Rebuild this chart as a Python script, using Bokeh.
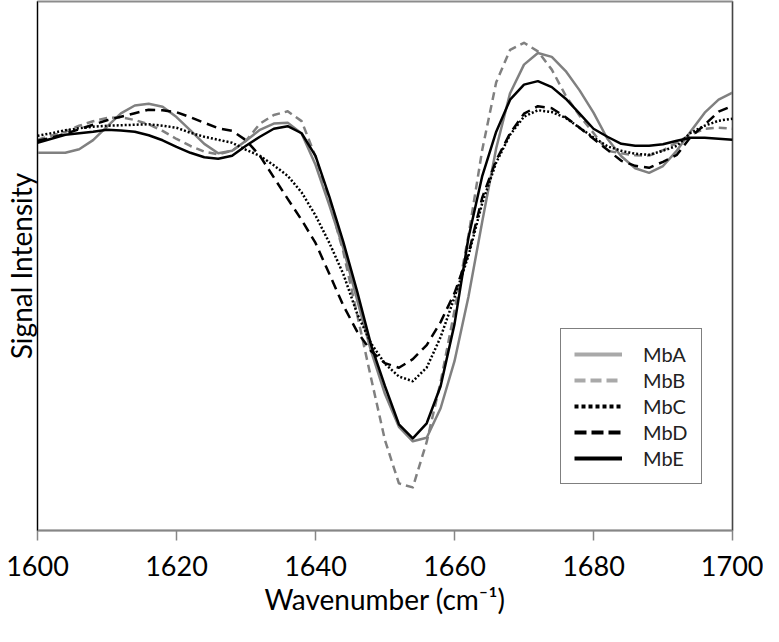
from bokeh.plotting import figure
from bokeh.models import Range1d, FixedTicker, Legend, LegendItem, Span
from bokeh.embed import file_html
from bokeh.resources import INLINE

# Wavenumber grid (cm-1) and second-derivative signal (arbitrary units)
wavenumber = list(range(1600, 1701, 2))

MbA = [0, 0, 0, 3.5, 12.6, 26.2, 39.3, 47.2, 49, 46, 35.6, 22.3, 8.9, -0.4, 2, 12,
       22.9, 29.2, 30.1, 19.2, -12, -52.4, -95.5, -147, -198, -240.8, -273.5, -288,
       -284.5, -255, -208, -144, -68.4, 4.5, 59.5, 88, 99.6, 95.7, 81.6, 62.3, 40, 14,
       -3.5, -15.4, -20, -13.2, 2.2, 21.5, 40, 53, 60]

MbB = [13, 17, 21, 27, 31.5, 34.7, 35.5, 32.7, 28.5, 21.8, 13.8, 6.8, 1.1, -1.5, 2, 12,
       29, 37.7, 41.4, 31.6, -3.7, -48.8, -98.8, -161.7, -225, -287, -330, -334,
       -288.6, -228.8, -157.4, -83, 3.3, 70.3, 102.8, 109.8, 101.2, 83, 57, 37, 19.7, 2,
       -0.5, -2.5, -2.8, 2.5, 10.4, 18, 24, 25, 24]

MbC = [17, 19.5, 22.5, 24.5, 26, 27, 27.5, 28, 28.5, 27, 25, 20, 16, 13, 10, 3,
       -3, -12.5, -23, -39.5, -62.5, -90, -121, -160.7, -190.3, -210.6, -223.3, -228,
       -214.4, -184, -144.3, -103, -50, -9.7, 18, 36.1, 42.5, 40.7, 34.8, 25, 15.3, 6.5,
       2, -1, -2, 2, 7, 20, 27, 32, 34]

MbD = [12, 15, 19, 23.5, 28, 32.5, 36, 39.5, 43, 42.5, 40.5, 35.5, 30, 24.5, 22, 12.5,
       -3, -24.5, -46, -67, -90, -121, -152.5, -178.5, -198, -210, -214.5, -206,
       -192, -169, -140, -101, -44.5, -7.5, 19.5, 39, 46.5, 44.5, 35.5, 25, 14, 3,
       -8, -13, -15, -9, -2, 16, 28, 41, 47]

MbE = [10, 14, 18, 19.5, 21, 23, 22.2, 21, 17.5, 12.5, 6, 0, -4.5, -6, -3, 7,
       16, 24, 26.5, 19.5, -3, -44, -89, -138.5, -192, -233, -271, -285,
       -270, -233, -171, -85, -23, 21, 53, 68, 71.5, 65.5, 54, 39, 24, 16,
       9, 7, 7, 8.5, 12, 15, 15, 14, 13]

series_names = ["MbA", "MbB", "MbC", "MbD", "MbE"]
x_ticks = [1600, 1620, 1640, 1660, 1680, 1700]
x_title = "Wavenumber (cm\u207b\u00b9)"
y_title = "Signal Intensity"

FONT = "Lato"

p = figure(width=763, height=626, output_backend="svg", toolbar_location=None,
           x_range=Range1d(1600, 1700), y_range=Range1d(-377, 151),
           min_border_left=30, min_border_right=31, min_border_top=1,
           min_border_bottom=96, x_axis_label=x_title, y_axis_label=y_title)
p.grid.visible = False
p.background_fill_color = "white"
p.border_fill_color = "white"
p.outline_line_color = "#8c8c8c"
p.outline_line_width = 2

xa = p.xaxis[0]
xa.ticker = FixedTicker(ticks=x_ticks)
xa.axis_line_color = "#868686"
xa.axis_line_width = 1.5
xa.major_tick_line_color = "#868686"
xa.major_tick_line_width = 1.5
xa.major_tick_out = 10
xa.major_tick_in = 0
xa.minor_tick_line_color = None
xa.major_label_text_font = FONT
xa.major_label_text_font_size = "27px"
xa.major_label_text_color = "black"
xa.major_label_text_line_height = 1.0
xa.major_label_standoff = 15
xa.axis_label_text_font = FONT
xa.axis_label_text_font_size = "28px"
xa.axis_label_text_font_style = "normal"
xa.axis_label_text_color = "black"
xa.axis_label_text_line_height = 1.0
xa.axis_label_standoff = 3

ya = p.yaxis[0]
ya.ticker = FixedTicker(ticks=[])
ya.major_tick_out = 0
ya.major_tick_in = 0
ya.minor_tick_line_color = None
ya.major_label_standoff = 0
ya.axis_line_color = "black"
ya.axis_line_width = 1
ya.axis_label_text_font = FONT
ya.axis_label_text_font_size = "28px"
ya.axis_label_text_font_style = "normal"
ya.axis_label_text_color = "black"
ya.axis_label_text_line_height = 1.0
ya.axis_label_standoff = 0

p.add_layout(Span(location=1700, dimension="height", line_color="black", line_width=1))

styles = {
    "MbA": dict(line_color="#808080", line_dash="solid"),
    "MbB": dict(line_color="#808080", line_dash="8 5"),
    "MbC": dict(line_color="black", line_dash="2 2"),
    "MbD": dict(line_color="black", line_dash="10 6"),
    "MbE": dict(line_color="black", line_dash="solid"),
}
legend_styles = {
    "MbA": dict(line_color="#a9a9a9", line_dash="solid"),
    "MbB": dict(line_color="#a9a9a9", line_dash="11 5"),
    "MbC": dict(line_color="black", line_dash="4 3"),
    "MbD": dict(line_color="black", line_dash="12 5"),
    "MbE": dict(line_color="black", line_dash="solid"),
}
data = {"MbA": MbA, "MbB": MbB, "MbC": MbC, "MbD": MbD, "MbE": MbE}

items = []
for name in series_names:
    p.line(wavenumber, data[name], line_width=2.5, line_join="round", **styles[name])
for name in series_names:
    # legend-only swatch renderer (a single missing point, nothing drawn in the plot)
    r = p.line([wavenumber[0]], [float("nan")], line_width=4, **legend_styles[name])
    items.append(LegendItem(label=name, renderers=[r]))

legend = Legend(items=items, location=(523, 46), margin=0, padding=13, spacing=2,
                glyph_width=48, glyph_height=24, label_height=24, label_standoff=21,
                label_text_font=FONT, label_text_font_size="20px",
                label_text_color="#222222",
                border_line_color="black", border_line_width=1.5,
                background_fill_color="white", background_fill_alpha=1.0)
p.add_layout(legend)

open("out.html", "w").write(file_html(p, INLINE))
